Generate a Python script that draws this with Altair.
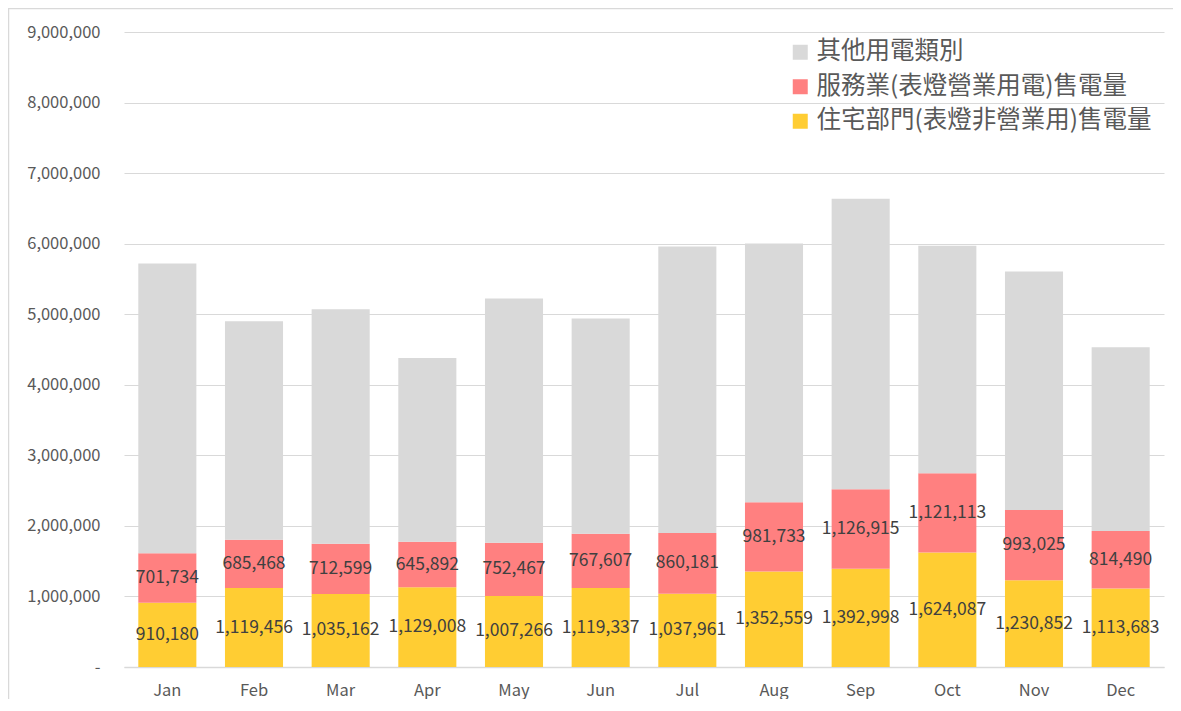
import altair as alt
import pandas as pd

months = ["Jan", "Feb", "Mar", "Apr", "May", "Jun", "Jul", "Aug", "Sep", "Oct", "Nov", "Dec"]
residential = [910180, 1119456, 1035162, 1129008, 1007266, 1119337, 1037961, 1352559, 1392998, 1624087, 1230852, 1113683]
service = [701734, 685468, 712599, 645892, 752467, 767607, 860181, 981733, 1126915, 1121113, 993025, 814490]
other = [4108000, 3094000, 3321000, 2605000, 3464000, 3054000, 4063000, 3669000, 4116000, 3226000, 3383000, 2603000]

S_OTHER = "其他用電類別"
S_SERV = "服務業(表燈營業用電)售電量"
S_RES = "住宅部門(表燈非營業用)售電量"
series_names = [S_OTHER, S_SERV, S_RES]
series_colors = ["#D9D9D9", "#FF8080", "#FFCD33"]

rows = []
for i, m in enumerate(months):
    rows.append({"month": m, "series": S_RES, "value": residential[i], "ord": 0})
    rows.append({"month": m, "series": S_SERV, "value": service[i], "ord": 1})
    rows.append({"month": m, "series": S_OTHER, "value": other[i], "ord": 2})
df = pd.DataFrame(rows)

FONT = "Noto Sans CJK TC"

x_enc = alt.X(
    "month:N", sort=months, title=None,
    scale=alt.Scale(paddingInner=0.33, paddingOuter=0.165),
    axis=alt.Axis(labelAngle=0, ticks=False, labelPadding=15, labelFontSize=16.5,
                  labelColor="#595959", labelFont=FONT, domainColor="#D9D9D9",
                  domainWidth=1.5, grid=False),
)

y_scale = alt.Scale(domain=[0, 9000000], nice=False, zero=True)

base = alt.Chart(df)

bars = base.mark_bar().encode(
    x=x_enc,
    y=alt.Y(
        "value:Q", stack="zero", scale=y_scale, title=None,
        axis=alt.Axis(values=list(range(0, 9000001, 1000000)), ticks=False, domain=False,
                      labelPadding=24, labelFontSize=16.5, labelColor="#595959", labelFont=FONT,
                      gridColor="#D9D9D9", gridWidth=1,
                      labelExpr="datum.value == 0 ? '-\u2007' : format(datum.value, ',')"),
    ),
    color=alt.Color(
        "series:N",
        scale=alt.Scale(domain=series_names, range=series_colors),
        legend=alt.Legend(
            title=None, orient="none", legendX=664, legendY=8, symbolType="square",
            symbolSize=225, symbolStrokeWidth=0, labelFontSize=24.5, labelFont=FONT,
            labelColor="#595959", labelLimit=0, rowPadding=9.5, labelOffset=4,
        ),
    ),
    order=alt.Order("ord:Q", sort="ascending"),
)

labels = base.transform_filter("datum.ord < 2").transform_stack(
    stack="value", groupby=["month"], sort=[alt.SortField("ord", order="ascending")],
    as_=["v0", "v1"],
).transform_calculate(mid="(datum.v0 + datum.v1) / 2").mark_text(
    fontSize=17.5, color="#404040", font=FONT
).encode(
    x=alt.X("month:N", sort=months),
    y=alt.Y("mid:Q", scale=y_scale),
    text=alt.Text("value:Q", format=","),
)

frame_df = pd.DataFrame({"k": [0]})
left_border = alt.Chart(frame_df).mark_rule(color="#D9D9D9", strokeWidth=1.5).encode(
    x=alt.value(-115.5), y=alt.value(-24), y2=alt.value(720)
)
top_border = alt.Chart(frame_df).mark_rule(color="#D9D9D9", strokeWidth=1.5).encode(
    x=alt.value(-116), x2=alt.value(1200), y=alt.value(-23.5)
)

chart = alt.layer(bars, labels, left_border, top_border).properties(
    width=1040, height=635,
    autosize=alt.AutoSizeParams(type="none"),
    padding={"left": 116, "top": 24, "right": 9, "bottom": 32},
).configure_view(stroke=None)

chart.save("out.html", embed_options={"renderer": "svg", "actions": False})
